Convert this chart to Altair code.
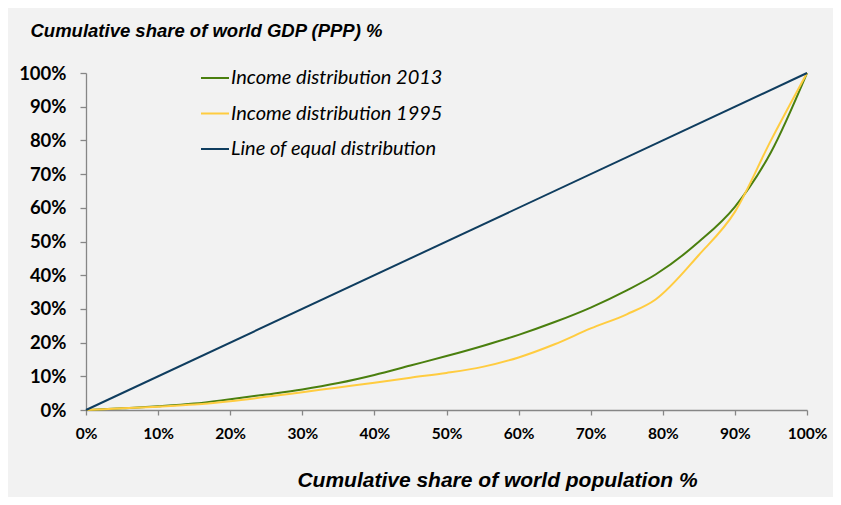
import altair as alt
import pandas as pd

# Cumulative share of world population (%)
pop_share = [0, 5, 10, 15, 20, 25, 30, 35, 40, 45, 50, 55, 60, 65, 70, 75, 79, 85, 90, 95, 100]
# Cumulative share of world GDP (PPP) (%)
gdp_2013 = [0, 0.5, 1.1, 1.9, 3.2, 4.6, 6.1, 8.0, 10.4, 13.2, 16.0, 19.0, 22.3, 26.1, 30.4, 35.5, 40.2, 49.9, 60.3, 76.5, 100]
gdp_1995 = [0, 0.5, 1.0, 1.6, 2.6, 3.9, 5.3, 6.7, 8.1, 9.6, 11.0, 12.8, 15.6, 19.5, 24.2, 28.4, 32.8, 46.0, 58.8, 80.0, 100]
equal_x = [0, 100]
equal_y = [0, 100]

series_names = ["Income distribution 2013", "Income distribution 1995", "Line of equal distribution"]
series_colors = ["#4a7f0e", "#ffcc40", "#0f3d5f"]

rows = []
for x, y in zip(pop_share, gdp_2013):
    rows.append({"pop": x, "gdp": y, "series": series_names[0]})
for x, y in zip(pop_share, gdp_1995):
    rows.append({"pop": x, "gdp": y, "series": series_names[1]})
for x, y in zip(equal_x, equal_y):
    rows.append({"pop": x, "gdp": y, "series": series_names[2]})
df = pd.DataFrame(rows)

tick_vals = list(range(0, 101, 10))

chart = alt.Chart(df).mark_line(strokeWidth=2, interpolate="monotone").encode(
    x=alt.X("pop:Q",
            scale=alt.Scale(domain=[0, 100], nice=False),
            axis=alt.Axis(values=tick_vals, labelExpr="datum.value + '%'",
                          title="Cumulative share of world population %",
                          titleFont="Liberation Sans", titleFontStyle="italic",
                          titleFontWeight="bold", titleFontSize=21, titleColor="#000000",
                          titleX=411, titleY=76, titleAlign="center", titleBaseline="alphabetic",
                          labelFont="Lato", labelFontWeight="bold", labelFontSize=15.5,
                          labelColor="#000000", labelPadding=11, labelFlush=False,
                          labelOverlap=False,
                          tickSize=5, grid=False)),
    y=alt.Y("gdp:Q",
            scale=alt.Scale(domain=[0, 100], nice=False),
            axis=alt.Axis(values=tick_vals, labelExpr="datum.value + '%'",
                          title="Cumulative share of world GDP (PPP) %",
                          titleFont="Liberation Sans", titleFontStyle="italic",
                          titleFontWeight="bold", titleFontSize=18.5, titleColor="#000000",
                          titleAngle=0, titleX=-56, titleY=-37, titleAlign="left",
                          titleBaseline="alphabetic",
                          labelFont="Lato", labelFontWeight="bold", labelFontSize=18.5,
                          labelColor="#000000", labelPadding=14, labelFlush=False,
                          labelOverlap=False,
                          tickSize=6, grid=False)),
    color=alt.Color("series:N",
                    scale=alt.Scale(domain=series_names, range=series_colors),
                    sort=series_names,
                    legend=alt.Legend(title=None, orient="none", legendX=114, legendY=-10,
                                      symbolType="stroke", symbolSize=784,
                                      symbolStrokeWidth=2, labelFont="Lato",
                                      labelFontStyle="italic", labelFontSize=20,
                                      labelColor="#000000", labelOffset=1,
                                      rowPadding=10.5, labelLimit=400)),
    order=alt.Order("series:N"),
).properties(
    width=721,
    height=337,
    background="#f2f2f2",
    padding={"left": 78, "top": 65, "right": 26, "bottom": 87},
    autosize=alt.AutoSizeParams(type="none"),
).configure_view(
    stroke=None
).configure_axis(
    domainColor="#868686",
    tickColor="#868686",
    domainWidth=1.3,
    tickWidth=1.3,
)

chart.save("out.html", embed_options={"renderer": "svg", "actions": False})
